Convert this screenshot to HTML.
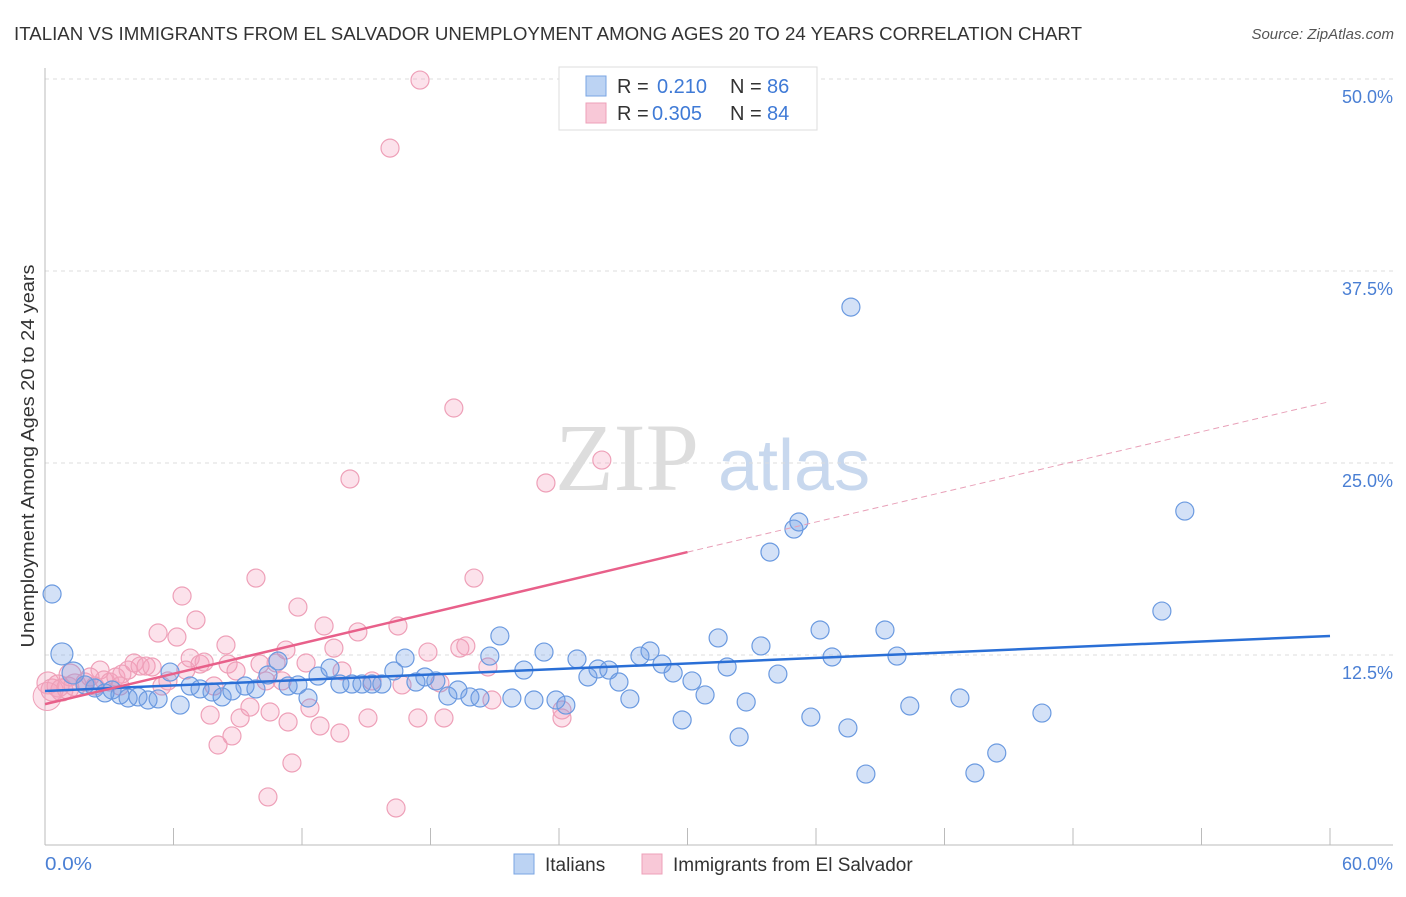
<!DOCTYPE html>
<html><head><meta charset="utf-8"><style>
body{margin:0;background:#fff;width:1406px;height:892px;overflow:hidden;font-family:"Liberation Sans",sans-serif}
</style></head><body>
<svg id="chart" width="1406" height="892" xmlns="http://www.w3.org/2000/svg" font-family="Liberation Sans, sans-serif">
<text x="14" y="40" font-size="18" fill="#333" textLength="1068" lengthAdjust="spacingAndGlyphs">ITALIAN VS IMMIGRANTS FROM EL SALVADOR UNEMPLOYMENT AMONG AGES 20 TO 24 YEARS CORRELATION CHART</text>
<text x="1394" y="39" font-size="15" fill="#555" font-style="italic" text-anchor="end">Source: ZipAtlas.com</text>
<text x="555" y="490" font-size="96" fill="#ddd" font-family="Liberation Serif, serif">ZIP</text>
<text x="718" y="490" font-size="72" fill="#c8d8ee">atlas</text>
<g id="grid"></g><g id="axes"></g><g id="pts"></g><g id="lines"></g>
<text transform="translate(34,456) rotate(-90)" font-size="18" fill="#333" text-anchor="middle" textLength="383" lengthAdjust="spacingAndGlyphs">Unemployment Among Ages 20 to 24 years</text>
<text x="45" y="870" font-size="18" fill="#4a7fd4" textLength="47" lengthAdjust="spacingAndGlyphs">0.0%</text>
<text x="1393" y="870" font-size="18" fill="#4a7fd4" text-anchor="end">60.0%</text>
<g>
<rect x="559" y="67" width="258" height="63" fill="#fff" stroke="#ddd"/>
<rect x="586" y="76" width="20" height="20" fill="#bcd3f3" stroke="#7aa4e3"/>
<rect x="586" y="103" width="20" height="20" fill="#f8c8d7" stroke="#eea0b8"/>
<text x="617" y="93" font-size="20" fill="#333">R = <tspan x="657" fill="#3f7ad6">0.210</tspan><tspan x="730">N = </tspan><tspan x="767" fill="#3f7ad6">86</tspan></text>
<text x="617" y="120" font-size="20" fill="#333">R = <tspan x="652" fill="#3f7ad6">0.305</tspan><tspan x="730">N = </tspan><tspan x="767" fill="#3f7ad6">84</tspan></text>
</g>
<g>
<rect x="514" y="854" width="20" height="20" fill="#bcd3f3" stroke="#7aa4e3"/>
<text x="545" y="871" font-size="19" fill="#333">Italians</text>
<rect x="642" y="854" width="20" height="20" fill="#f8c8d7" stroke="#eea0b8"/>
<text x="673" y="871" font-size="19" fill="#333">Immigrants from El Salvador</text>
</g>
</svg>
<script>
const yTicks=[12.5,25,37.5,50];
const yTickLabels=["12.5%","25.0%","37.5%","50.0%"];
const xTicks=[0,6,12,18,24,30,36,42,48,54,60];
const blueX=[0.33,0.79,1.31,1.87,2.33,2.80,3.13,3.50,3.88,4.34,4.81,5.28,5.84,6.31,6.78,7.24,7.80,8.27,8.73,9.34,9.85,10.41,10.88,11.35,11.81,12.28,12.75,13.31,13.77,14.33,14.80,15.27,15.73,16.29,16.81,17.32,17.74,18.25,18.81,19.28,19.84,20.31,20.77,21.24,21.80,22.36,22.83,23.30,23.86,24.32,24.84,25.35,25.82,26.33,26.80,27.31,27.78,28.25,28.81,29.33,29.75,30.21,30.82,31.43,31.85,32.41,32.74,33.43,33.85,34.22,34.97,35.20,35.76,36.19,36.75,37.49,37.63,38.33,39.22,39.78,40.38,42.72,43.42,44.44,46.55,52.15,53.22];
const blueY=[16.47,12.57,11.33,10.55,10.35,10.03,10.22,9.90,9.70,9.77,9.57,9.64,11.39,9.24,10.48,10.29,10.09,9.77,10.16,10.48,10.29,11.20,12.11,10.48,10.55,9.70,11.13,11.65,10.61,10.61,10.61,10.61,10.61,11.46,12.30,10.74,11.07,10.81,9.83,10.22,9.77,9.70,12.43,13.74,9.70,11.52,9.57,12.69,9.57,9.24,12.24,11.07,11.59,11.52,10.74,9.64,12.43,12.76,11.91,11.33,8.27,10.81,9.90,13.61,11.72,7.16,9.44,13.09,19.20,11.26,20.70,21.16,8.46,14.13,12.37,7.75,35.15,4.75,14.13,12.43,9.18,9.70,4.82,6.12,8.72,15.36,21.87];
const pinkX=[0.14,0.33,0.61,0.79,1.07,1.40,1.87,2.33,2.57,2.75,3.03,3.31,3.59,3.88,4.16,4.44,4.72,5.00,5.28,5.46,5.74,6.16,6.40,6.58,6.78,7.05,7.24,7.43,7.71,7.89,8.08,8.45,8.55,8.73,8.92,9.11,9.57,9.85,10.04,10.32,10.41,10.51,10.79,11.07,11.25,11.35,11.53,11.81,12.19,12.37,12.84,13.03,13.49,13.77,13.87,14.24,14.61,15.08,15.27,16.11,16.39,16.48,16.67,17.41,17.51,17.88,18.44,18.63,19.09,19.37,19.65,20.03,20.68,20.87,23.39,24.14,24.14,26.00,3.50,2.10,1.17];
const pinkY=[10.68,10.22,10.48,10.22,10.35,10.55,10.74,10.48,11.52,10.87,10.74,11.07,11.26,11.52,11.98,11.78,11.78,11.72,13.93,10.48,10.81,13.67,16.34,11.52,12.30,14.78,11.91,12.04,8.59,10.48,6.64,13.15,11.91,7.23,11.46,8.40,9.11,17.51,11.91,10.81,3.26,8.79,11.98,10.81,12.82,8.14,5.47,15.62,11.98,9.05,7.88,14.39,12.95,7.42,11.46,23.96,14.00,8.40,10.81,45.50,2.54,14.39,10.55,8.40,49.93,12.69,10.68,8.40,28.58,12.95,13.09,17.51,11.72,9.57,23.70,8.40,8.92,25.19,10.48,11.07,11.20];
const blueTrend=[10.16,13.74];
const pinkTrend=[9.3,19.2,29.0];
const NS="http://www.w3.org/2000/svg";
const X=v=>45+v*(1285/60), Y=v=>847-v*(192/12.5);
function mk(tag,attrs,parent){const e=document.createElementNS(NS,tag);for(const k in attrs)e.setAttribute(k,attrs[k]);document.getElementById(parent).appendChild(e);return e;}
yTicks.forEach((t,i)=>{
 const g=mk('line',{x1:45,x2:1393,y1:Y(t),y2:Y(t),stroke:'#ddd','stroke-dasharray':'4,4'},'grid');
 
 
 const l=mk('text',{x:1393,y:Y(t)+24,'font-size':18,fill:'#4a7fd4','text-anchor':'end'},'grid');
 l.textContent=yTickLabels[i];
 
 
});
const ya=mk('line',{x1:45,x2:45,y1:68,y2:845,stroke:'#bbb'},'axes');


const xa=mk('line',{x1:45,x2:1393,y1:845,y2:845,stroke:'#bbb'},'axes');


xTicks.forEach(t=>{const k=mk('line',{x1:X(t),x2:X(t),y1:828,y2:845,stroke:'#bbb'},'axes');
 
 });
function dots(xs,ys,fill,stroke,name){xs.forEach((x,i)=>{
 const r=(x<1.5&&ys[i]>10&&ys[i]<13)?11:9;
 const c=mk('circle',{cx:X(x),cy:Y(ys[i]),r:r,fill:fill,stroke:stroke,'stroke-width':1.2},'pts');
 
 });}
dots(pinkX,pinkY,'rgba(244,160,188,0.3)','#eea0b8','elsalvador-point');
dots(blueX,blueY,'rgba(110,155,230,0.3)','#6b9ae0','italians-point');
const big=mk('circle',{cx:X(0.1),cy:Y(9.8),r:14,fill:'rgba(244,160,188,0.3)',stroke:'#eea0b8'},'pts');


const bl=mk('line',{x1:X(0),y1:Y(blueTrend[0]),x2:X(60),y2:Y(blueTrend[1]),stroke:'#2a6fd6','stroke-width':2.5},'lines');


const pl=mk('line',{x1:X(0),y1:Y(pinkTrend[0]),x2:X(30),y2:Y(pinkTrend[1]),stroke:'#e8608a','stroke-width':2.5},'lines');


const pd=mk('line',{x1:X(30),y1:Y(pinkTrend[1]),x2:X(60),y2:Y(pinkTrend[2]),stroke:'#e8a0b8','stroke-width':1,'stroke-dasharray':'6,4'},'lines');


</script>
</body></html>
